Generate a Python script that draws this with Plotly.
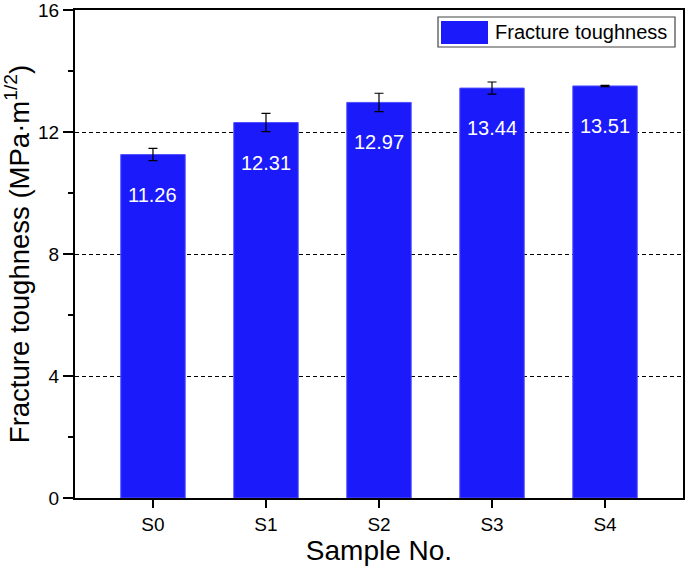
import plotly.graph_objects as go

samples = ["S0", "S1", "S2", "S3", "S4"]
toughness = [11.26, 12.31, 12.97, 13.44, 13.51]
errors = [0.2, 0.3, 0.3, 0.2, 0.02]
y_ticks = [0, 4, 8, 12, 16]
series_name = "Fracture toughness"

font = "Liberation Sans, Arial, sans-serif"
blue = "rgb(26,26,250)"

W, H = 686, 570
ml, mr, mt, mb = 75, 3, 10, 72
pw, ph = W - ml - mr, H - mt - mb

def px(x):
    return (x - ml) / pw

def py(y):
    return 1 - (y - mt) / ph

fig = go.Figure()
fig.add_trace(go.Bar(
    x=samples, y=toughness, name=series_name, showlegend=False,
    marker=dict(color=blue, line=dict(color="rgb(80,80,255)", width=1)),
    width=0.57,
    error_y=dict(type="data", array=errors, visible=True, color="black", thickness=1.2, width=4.5),
))

for s, v in zip(samples, toughness):
    fig.add_annotation(x=s, y=v, text=f"{v:.2f}", showarrow=False, yshift=-40,
                       font=dict(family=font, size=20, color="white"))

# manual legend
fig.add_shape(type="rect", xref="paper", yref="paper",
              x0=px(438), x1=px(675), y0=py(47), y1=py(17),
              line=dict(color="#444", width=1.2), fillcolor="white")
fig.add_shape(type="rect", xref="paper", yref="paper",
              x0=px(441), x1=px(488), y0=py(44), y1=py(21),
              line=dict(width=0), fillcolor=blue)
fig.add_annotation(xref="paper", yref="paper", x=px(493), y=py(32),
                   xanchor="left", yanchor="middle", showarrow=False,
                   text=series_name, font=dict(family=font, size=20, color="black"))

fig.update_layout(
    width=W, height=H,
    margin=dict(l=ml, r=mr, t=mt, b=mb),
    plot_bgcolor="white", paper_bgcolor="white",
    font=dict(family=font, color="black"),
    showlegend=False,
)
fig.update_xaxes(
    range=[-0.69, 4.69], showline=True, linecolor="black", linewidth=2, mirror=True,
    ticks="outside", ticklen=8, tickwidth=1.5, tickcolor="black",
    tickfont=dict(size=19, family=font),
    title=dict(text="Sample No.", font=dict(size=28, family=font), standoff=2),
    showgrid=False, automargin=False, ticklabeloverflow="allow",
)
fig.update_yaxes(
    range=[0, 16], tickvals=y_ticks, showline=True, linecolor="black", linewidth=2, mirror=True,
    ticks="outside", ticklen=10, tickwidth=1.5, tickcolor="black",
    tickfont=dict(size=19, family=font),
    minor=dict(ticks="outside", ticklen=5, tickwidth=1.5, tickcolor="black", dtick=2, showgrid=False),
    showgrid=True, gridcolor="black", griddash="4px,3px", gridwidth=1,
    zeroline=False, automargin=False, ticklabeloverflow="allow",
    title=dict(text="Fracture toughness (MPa·m<sup>1/2</sup>)", font=dict(size=27.5, family=font), standoff=4),
)

fig.write_html("out.html", config={"displayModeBar": False},
               post_script="document.body.style.margin='0';")
